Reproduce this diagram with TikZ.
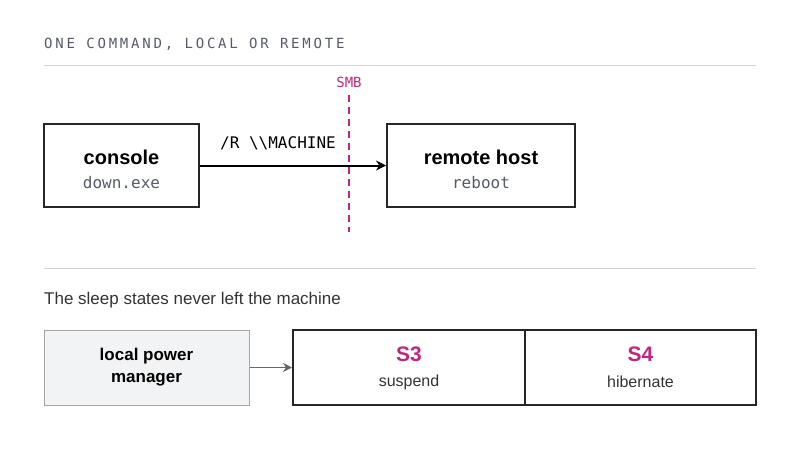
\documentclass[tikz,border=0pt]{standalone}
\usepackage{fontspec}
\setmainfont{Liberation Sans}
\setmonofont{DejaVu Sans Mono}
\newfontfamily\spacedmono[LetterSpace=20]{DejaVu Sans Mono}
\usetikzlibrary{arrows.meta}
\definecolor{mag}{HTML}{C0267F}
\definecolor{txtgray}{HTML}{555B66}
\definecolor{rule}{HTML}{D4D4D4}
\definecolor{boxfill}{HTML}{F2F3F5}
\tikzset{
  hbox/.style={draw=black!85,line width=2pt,inner sep=0pt},
  rulel/.style={draw=rule,line width=1pt},
  title/.style={font=\spacedmono\fontsize{14}{16}\selectfont,text=txtgray,anchor=west},
}
\begin{document}
\begin{tikzpicture}[x=1pt,y=-1pt]
\useasboundingbox (0,0) rectangle (800,450);
\node[title,inner sep=0pt] (t) at (44,44) {ONE COMMAND, LOCAL OR REMOTE};
\draw[rulel] (44,65) -- (756,65);
\node[font=\ttfamily\fontsize{14}{16}\selectfont,text=mag] (smb) at (349,82) {SMB};
\coordinate (d1) at (349,95); \coordinate (d2) at (349,232);
\draw[mag,line width=1.8pt,dash pattern=on 7pt off 5pt] (d1) -- (d2);
\node[hbox,minimum width=155,minimum height=83] (con) at (121.5,165.5) {};
\node[font=\bfseries\fontsize{20}{24}\selectfont] at (121.5,157) {console};
\node[font=\ttfamily\fontsize{16}{18}\selectfont,text=txtgray] at (121.5,183) {down.exe};
\node[hbox,minimum width=188,minimum height=83] (rem) at (481,165.5) {};
\node[font=\bfseries\fontsize{20}{24}\selectfont] at (481,157) {remote host};
\node[font=\ttfamily\fontsize{16}{18}\selectfont,text=txtgray] at (481,183) {reboot};
\draw[line width=2pt,-{Stealth[length=10pt,width=10pt]}] (con.east) -- (rem.west);
\node[font=\ttfamily\fontsize{16}{18}\selectfont] at (278,143) {/R \textbackslash\textbackslash MACHINE};
\draw[rulel] (44,268) -- (756,268);
\node[anchor=west,inner sep=0pt,font=\fontsize{17}{20}\selectfont,text=black!80] at (44,300) {The sleep states never left the machine};
\node[draw=black!35,fill=boxfill,line width=1pt,minimum width=205,minimum height=75,align=center,font=\bfseries\fontsize{17}{22}\selectfont] (lpm) at (146.5,367.5) {local power\\manager};
\node[hbox,minimum width=232,minimum height=75] (s3) at (409,367.5) {};
\node[hbox,minimum width=231,minimum height=75] (s4) at (640.5,367.5) {};
\draw[black!60,line width=1.6pt,-{Stealth[length=9pt,width=9pt]}] (lpm.east) -- (s3.west);
\node[font=\bfseries\fontsize{21}{24}\selectfont,text=mag] at (409,354) {S3};
\node[font=\fontsize{16}{18}\selectfont,text=black!80] at (409,382) {suspend};
\node[font=\bfseries\fontsize{21}{24}\selectfont,text=mag] at (640.5,354) {S4};
\node[font=\fontsize{16}{18}\selectfont,text=black!80] at (640.5,382) {hibernate};
\end{tikzpicture}
\end{document}
